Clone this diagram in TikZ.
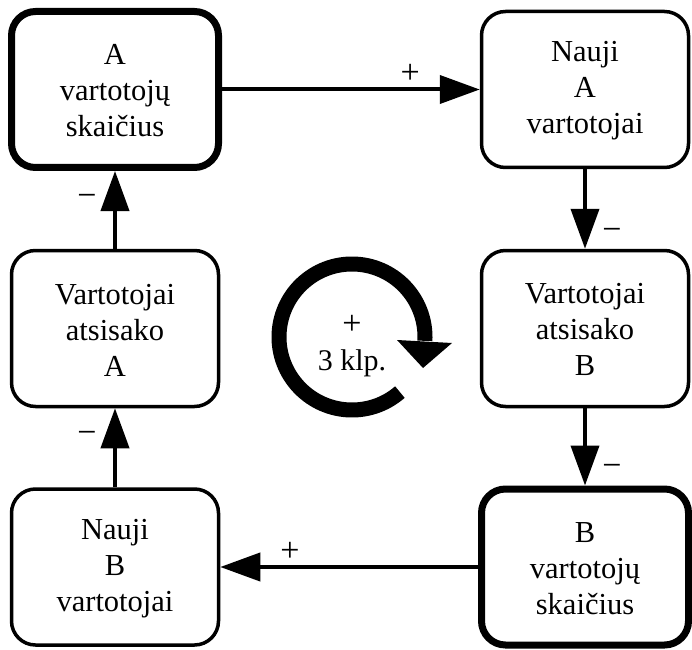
\documentclass[tikz,border=0pt]{standalone}
\usepackage{fontspec}
\setmainfont{Liberation Serif}
\usetikzlibrary{arrows.meta}

\tikzset{
  box/.style={draw, rounded corners=24pt, line width=3.5pt, minimum width=207pt,
    minimum height=156pt, align=center, inner sep=0pt,
    font=\fontsize{30.5}{36}\selectfont, text height=95pt},
  thickbox/.style={box, line width=7pt},
  link/.style={line width=4pt, -{Triangle[length=40pt,width=28pt]}},
  sign/.style={font=\fontsize{34}{36}\selectfont, inner sep=0pt}
}

\begin{document}
\begin{tikzpicture}[x=1pt,y=1pt]
\useasboundingbox (0,0) rectangle (692,649);
\node[thickbox](Avart) at (115,559.5){A\\vartotojų\\skaičius};
\node[box](Anauji) at (585,559.5){Nauji\\A\\vartotojai};
\node[box](Batsis) at (585,320.5){Vartotojai\\atsisako\\B};
\node[thickbox](Bvart) at (585,82){B\\vartotojų\\skaičius};
\node[box](Bnauji) at (115,82){Nauji\\B\\vartotojai};
\node[box](Aatsis) at (115,320.5){Vartotojai\\atsisako\\A};
\draw[link] (Avart) -- (Anauji) node [sign, pos=.73, yshift=16pt]{+};
\draw[link] (Anauji) -- (Batsis) node [sign, pos=.77, xshift=27pt, yshift=-4pt]{−};
\draw[link] (Batsis) -- (Bvart) node [sign, pos=.75, xshift=27pt, yshift=-4pt]{−};
\draw[link] (Bvart) -- (Bnauji) node [sign, pos=.73, yshift=15pt]{+};
\draw[link] (Bnauji) -- (Aatsis) node [sign, pos=.68, xshift=-28pt, yshift=-4pt]{−};
\draw[link] (Aatsis) -- (Avart) node [sign, pos=.67, xshift=-28pt, yshift=-4pt]{−};
% loop sign
\coordinate (loop) at (352,312);
\draw[line width=15pt] (loop) ++(-49:73) arc[start angle=-49, end angle=-363, radius=73];
\fill ([shift={(45,-3)}]loop) -- ([shift={(100,-6)}]loop) -- ([shift={(71,-31)}]loop) -- cycle;
\node[align=center, inner sep=0pt, font=\fontsize{30}{36}\selectfont](looptext) at (352,303){{\fontsize{34}{36}\selectfont +}\\3 klp.};
\end{tikzpicture}
\end{document}
